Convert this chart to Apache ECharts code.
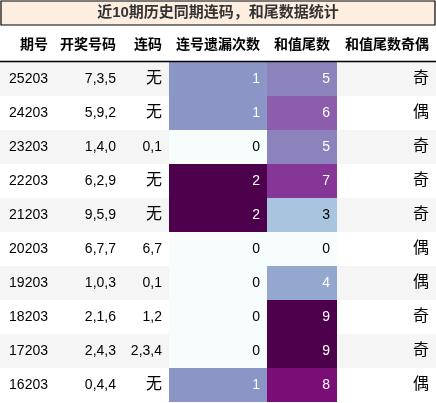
<!DOCTYPE html><html><head><meta charset="utf-8">
<script src="https://cdn.jsdelivr.net/npm/echarts@6/dist/echarts.min.js"></script>
<style>html,body{margin:0;padding:0;background:#fff}#c{width:436px;height:403px}</style></head><body><div id="c"></div>
<script>
const headers=["期号","开奖号码","连码","连号遗漏次数","和值尾数","和值尾数奇偶"];
const periods=["25203","24203","23203","22203","21203","20203","19203","18203","17203","16203"];
const draws=["7,3,5","5,9,2","1,4,0","6,2,9","9,5,9","6,7,7","1,0,3","2,1,6","2,4,3","0,4,4"];
const consec=["无","无","0,1","无","无","6,7","0,1","1,2","2,3,4","无"];
const missCount=[1,1,0,2,2,0,0,0,0,1];
const sumTail=[5,6,5,7,3,0,4,9,9,8];
const parity=["奇","偶","奇","奇","奇","偶","偶","奇","奇","偶"];
const edges=[0,55,123,169,267,337,436];
const BUPU=["#f7fcfd","#e0ecf4","#bfd3e6","#9ebcda","#8c96c6","#8c6bb1","#88419d","#810f7c","#4d004b"];
function hex(c){return [1,3,5].map(i=>parseInt(c.substr(i,2),16));}
function bupu(t){const p=t*8,i=Math.min(7,Math.floor(p)),f=p-i,a=hex(BUPU[i]),b=hex(BUPU[i+1]);
 return 'rgb('+a.map((v,k)=>Math.round(v+(b[k]-v)*f)).join(',')+')';}
const data=[];
periods.forEach((p,r)=>{
 [p,draws[r],consec[r],missCount[r],sumTail[r],parity[r]].forEach((v,c)=>data.push([c,r,v]));
});
const font='"Liberation Sans","Noto Sans CJK SC",sans-serif';
const chart=echarts.init(document.getElementById('c'));
chart.setOption({
 animation:false,
 grid:{left:0,right:0,top:62,bottom:1},
 xAxis:{type:'value',min:0,max:436,show:false},
 yAxis:{type:'category',data:periods,inverse:true,show:false},
 graphic:[
  {type:'rect',shape:{x:1,y:1,width:434,height:24},style:{fill:'#fdeee0',stroke:'#000',lineWidth:1.2}},
  {type:'text',x:218,y:13,style:{text:'近10期历史同期连码，和尾数据统计',font:'bold 15px '+font,fill:'#333',align:'center',verticalAlign:'middle'}},
  ...headers.map((h,i)=>({type:'text',x:edges[i+1]-7,y:45,style:{text:h,font:'bold 14px '+font,fill:'#000',align:'right',verticalAlign:'middle'}})),
  {type:'line',shape:{x1:0,y1:61.5,x2:436,y2:61.5},style:{stroke:'#000',lineWidth:1.5},z:100}
 ],
 series:[{type:'custom',data:data,encode:{x:0,y:1},
  renderItem:function(params,api){
   const c=api.value(0),r=api.value(1);const raw=data[params.dataIndex][2];
   const p0=api.coord([edges[c],r]),p1=api.coord([edges[c+1],r]);const h=api.size([0,1])[1];
   let fill=r%2===0?'#f5f5f5':'#ffffff',tc='#000';
   if(c===3){const t=raw/2;fill=bupu(t);tc=t>=0.4?'#fff':'#000';}
   if(c===4){const t=raw/9;fill=bupu(t);tc=t>=0.4?'#fff':'#000';}
   const isCJK=(c===2&&raw==='无')||c===5;
   return {type:'group',children:[
    {type:'rect',shape:{x:p0[0],y:p0[1]-h/2,width:p1[0]-p0[0],height:h},style:{fill:fill}},
    {type:'text',style:{x:p1[0]-7,y:p0[1],text:String(raw),font:(isCJK?'16px ':'14px ')+font,fill:tc,align:'right',verticalAlign:'middle'}}
   ]};
  }}]
});
</script></body></html>
